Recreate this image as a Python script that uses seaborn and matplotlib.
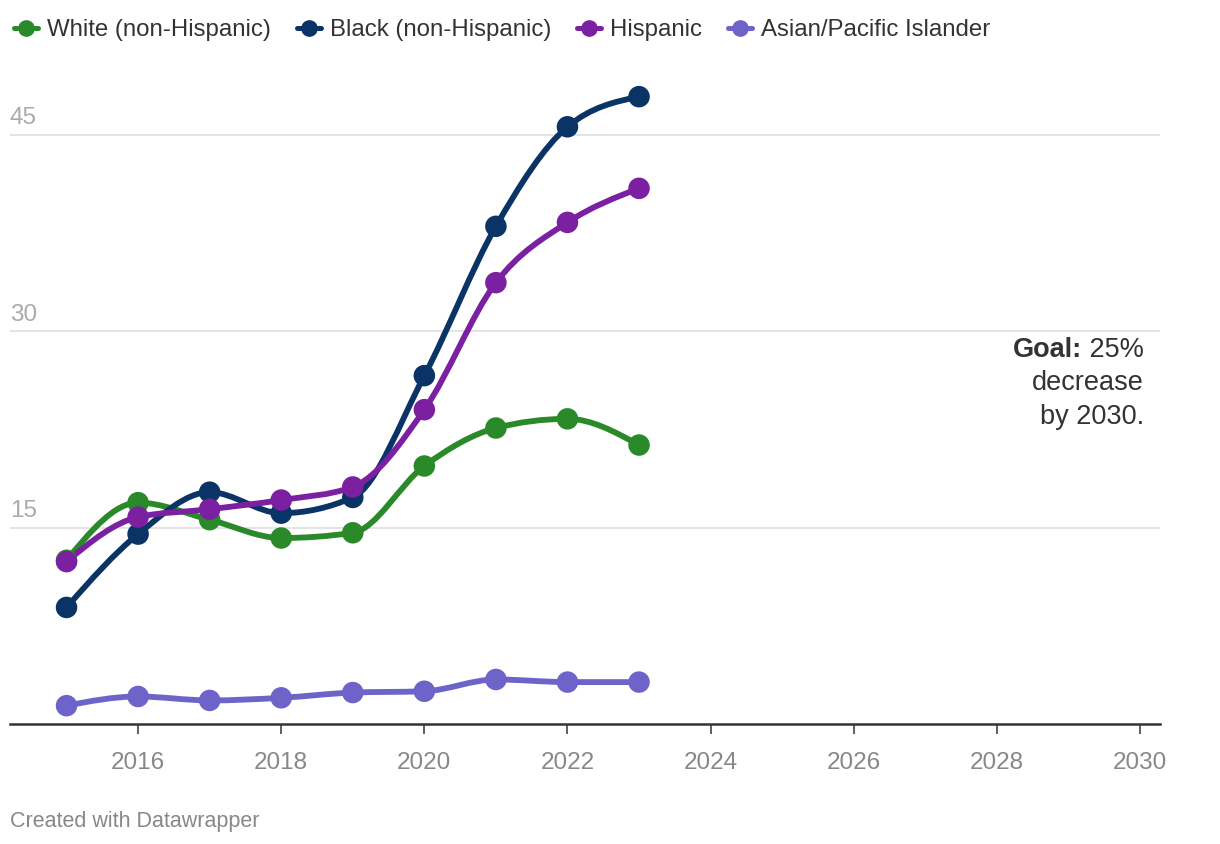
import numpy as np
import pandas as pd
import matplotlib
matplotlib.use("Agg")
import matplotlib.pyplot as plt
import matplotlib.transforms as mtransforms
from matplotlib.path import Path
from matplotlib.patches import PathPatch
from matplotlib.lines import Line2D
import seaborn as sns

# --------------------------
# Data
# --------------------------
years = [2015, 2016, 2017, 2018, 2019, 2020, 2021, 2022, 2023]
white = [12.5, 16.9, 15.6, 14.2, 14.6, 19.7, 22.6, 23.3, 21.3]
black = [8.9, 14.5, 17.7, 16.1, 17.3, 26.6, 38.0, 45.6, 47.9]
hispanic = [12.4, 15.8, 16.4, 17.1, 18.1, 24.0, 33.7, 38.3, 40.9]
asian = [1.4, 2.1, 1.8, 2.0, 2.4, 2.5, 3.4, 3.2, 3.2]

groups = ["White (non-Hispanic)", "Black (non-Hispanic)", "Hispanic", "Asian/Pacific Islander"]
colors = ["#2a8a2a", "#0a3366", "#7a20a0", "#6e63c8"]

y_ticks = [15, 30, 45]
x_ticks = [2016, 2018, 2020, 2022, 2024, 2026, 2028, 2030]

df = pd.DataFrame({
    "year": years * 4,
    "value": white + black + hispanic + asian,
    "group": np.repeat(groups, len(years)),
})

# --------------------------
# Style
# --------------------------
sns.set_theme(style="white")
plt.rcParams["font.family"] = ["Liberation Sans", "DejaVu Sans"]

fig = plt.figure(figsize=(12.2, 8.44), dpi=100)
ax = fig.add_axes([10 / 1220, 120 / 844, 1150 / 1220, 664 / 844])


# monotone-x cubic bezier (like d3.curveMonotoneX)
def monotone_path(xs, ys):
    xs = np.asarray(xs, float)
    ys = np.asarray(ys, float)
    n = len(xs)
    h = np.diff(xs)
    s = np.diff(ys) / h
    t = np.zeros(n)
    for i in range(1, n - 1):
        p = (s[i - 1] * h[i] + s[i] * h[i - 1]) / (h[i - 1] + h[i])
        t[i] = (np.sign(s[i - 1]) + np.sign(s[i])) * min(abs(s[i - 1]), abs(s[i]), 0.5 * abs(p))
    t[0] = (3 * s[0] - t[1]) / 2
    t[-1] = (3 * s[-1] - t[-2]) / 2
    verts = [(xs[0], ys[0])]
    codes = [Path.MOVETO]
    for i in range(n - 1):
        dx = h[i] / 3
        verts += [(xs[i] + dx, ys[i] + dx * t[i]),
                  (xs[i + 1] - dx, ys[i + 1] - dx * t[i + 1]),
                  (xs[i + 1], ys[i + 1])]
        codes += [Path.CURVE4] * 3
    return Path(verts, codes)


for g, c in zip(groups, colors):
    sub = df[df["group"] == g]
    patch = PathPatch(monotone_path(sub["year"], sub["value"]), fill=False,
                      edgecolor=c, lw=4.2, capstyle="round", joinstyle="round", zorder=3)
    ax.add_patch(patch)

sns.scatterplot(data=df, x="year", y="value", hue="group", palette=colors,
                s=240, linewidth=0, legend=False, zorder=4, ax=ax)

ax.set_xlim(2014.21, 2030.28)
ax.set_ylim(0, 50.7)

# gridlines + y labels above them
ytrans = mtransforms.blended_transform_factory(ax.transAxes, ax.transData)
for v in y_ticks:
    ax.axhline(v, color="#e2e2e2", lw=1.3, zorder=1)
    ax.text(0, v + 0.4, str(v), transform=ytrans,
            ha="left", va="bottom", fontsize=17.5, color="#aaaaaa")
ax.set_yticks([])

ax.set_xticks(x_ticks)
ax.set_xticklabels([str(x) for x in x_ticks])
ax.tick_params(axis="x", bottom=True, length=7.5, width=1.1, color="#333333",
               pad=13, labelsize=17.5, labelcolor="#888888")
ax.set_xlabel("")
ax.set_ylabel("")
for side in ["top", "right", "left"]:
    ax.spines[side].set_visible(False)
ax.spines["bottom"].set_color("#333333")
ax.spines["bottom"].set_linewidth(1.8)
ax.spines["bottom"].set_zorder(5)

# Goal annotation (bold "Goal:" placed left of the rest of line 1)
gx = 1144 / 1220
gsize = 19.5
line_h = 33.5 / 844
y1 = 1 - 350 / 844
t1 = fig.text(gx, y1, " 25%", ha="right", va="center", fontsize=gsize, color="#333333")
renderer = fig.canvas.get_renderer()
w1 = t1.get_window_extent(renderer).width / fig.bbox.width
fig.text(gx - w1, y1, "Goal:", ha="right", va="center", fontsize=gsize,
         fontweight="bold", color="#333333")
fig.text(gx, y1 - line_h, "decrease", ha="right", va="center", fontsize=gsize, color="#333333")
fig.text(gx, y1 - 2 * line_h, "by 2030.", ha="right", va="center", fontsize=gsize, color="#333333")

# legend
handles = [Line2D([0], [0], color=c, lw=3.6, marker="o", markersize=11) for c in colors]
fig.legend(handles, groups, loc="upper left", bbox_to_anchor=(0.001, 1 - 6 / 844), ncol=4,
           frameon=False, fontsize=17.3, handlelength=1.0, handletextpad=0.35,
           columnspacing=1.1, borderaxespad=0.15, labelcolor="#333333")

fig.text(10 / 1220, 1 - 821 / 844, "Created with Datawrapper", ha="left", va="center",
         fontsize=15.5, color="#888888")

fig.savefig("out.png", dpi=100)
